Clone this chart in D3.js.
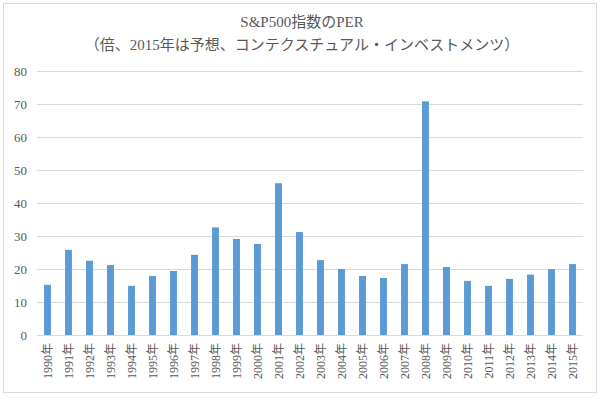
<!DOCTYPE html>
<html>
<head>
<meta charset="utf-8">
<script src="https://cdn.jsdelivr.net/npm/d3@7"></script>
<style>
  body { margin: 0; background: #fff; }
  svg text { font-family: "Liberation Serif", "DejaVu Serif", "Noto Sans CJK JP", serif; fill: #595959; }
  .grid line { stroke: #d9d9d9; stroke-width: 1; }
</style>
</head>
<body>
<svg id="chart"></svg>
<script>
  const years = ["1990年", "1991年", "1992年", "1993年", "1994年", "1995年", "1996年", "1997年",
    "1998年", "1999年", "2000年", "2001年", "2002年", "2003年", "2004年", "2005年", "2006年",
    "2007年", "2008年", "2009年", "2010年", "2011年", "2012年", "2013年", "2014年", "2015年"];
  const per = [15.2, 25.8, 22.5, 21.2, 14.9, 17.9, 19.4, 24.3, 32.6, 29.1, 27.6, 46.0, 31.2,
    22.7, 20.0, 17.9, 17.3, 21.5, 70.8, 20.6, 16.4, 14.9, 17.0, 18.3, 20.0, 21.5];
  const yTicks = [0, 10, 20, 30, 40, 50, 60, 70, 80];
  const title = "S&P500指数のPER";
  const subtitle = "（倍、2015年は予想、コンテクスチュアル・インベストメンツ）";

  const totalW = 604, totalH = 399;
  const mg = { top: 71, right: 21, bottom: 64, left: 37 };
  const W = totalW - mg.left - mg.right;
  const H = totalH - mg.top - mg.bottom;

  const svg = d3.select("#chart").attr("width", totalW).attr("height", totalH);

  // outer frame
  svg.append("rect").attr("x", 3.5).attr("y", 3.5).attr("width", 593).attr("height", 389)
    .attr("fill", "#fff").attr("stroke", "#d9d9d9");

  svg.append("text").attr("x", 302).attr("y", 27).attr("text-anchor", "middle")
    .attr("font-size", 15).text(title);
  svg.append("text").attr("x", 302).attr("y", 50).attr("text-anchor", "middle")
    .attr("font-size", 15).text(subtitle);

  const g = svg.append("g").attr("transform", `translate(${mg.left},${mg.top})`);

  const x = d3.scaleBand().domain(years).range([0, W]).paddingInner(0.67).paddingOuter(0.335);
  const y = d3.scaleLinear().domain([0, 80]).range([H, 0]);

  // gridlines
  g.append("g").attr("class", "grid")
    .selectAll("line").data(yTicks.filter(d => d > 0)).join("line")
    .attr("x1", 0).attr("x2", W)
    .attr("y1", d => Math.round(y(d)) + 0.5).attr("y2", d => Math.round(y(d)) + 0.5);

  g.selectAll("rect.bar").data(per).join("rect")
    .attr("class", "bar")
    .attr("x", (d, i) => x(years[i]))
    .attr("width", x.bandwidth())
    .attr("y", d => y(d))
    .attr("height", d => H - y(d))
    .attr("fill", "#5b9bd5");

  // baseline
  g.append("line").attr("x1", 0).attr("x2", W)
    .attr("y1", Math.round(H) + 0.5).attr("y2", Math.round(H) + 0.5)
    .attr("stroke", "#d9d9d9");

  const yAxis = g.append("g").call(d3.axisLeft(y).tickValues(yTicks).tickSize(0).tickPadding(10));
  yAxis.select(".domain").remove();
  yAxis.selectAll("text").attr("font-size", 13).attr("font-family", null);

  const xAxis = g.append("g").attr("transform", `translate(0,${H})`)
    .call(d3.axisBottom(x).tickSize(0));
  xAxis.select(".domain").remove();
  xAxis.selectAll("text")
    .attr("font-size", 12).attr("font-family", null)
    .attr("transform", "rotate(-90)")
    .attr("text-anchor", "end")
    .attr("x", -8).attr("y", 0).attr("dy", "0.35em");
</script>
</body>
</html>
